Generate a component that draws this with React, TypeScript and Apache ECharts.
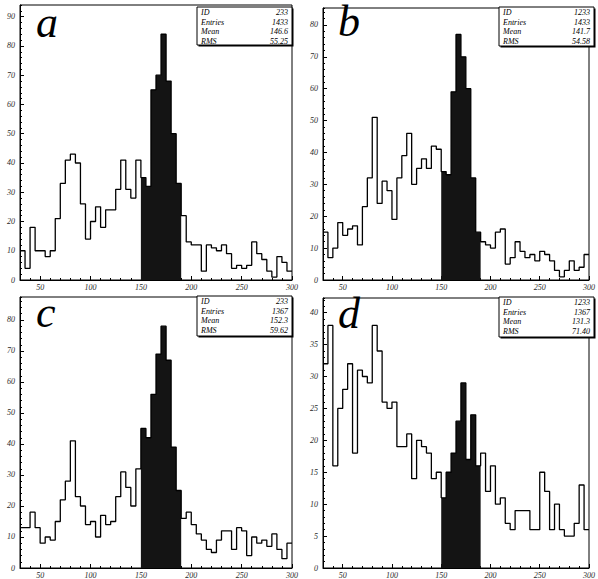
import React, { useEffect, useRef } from 'react';
import * as echarts from 'echarts';

// lower edges of the 5-unit bins (30 … 295); upper edge of last bin is 300
const binEdges = [30, 35, 40, 45, 50, 55, 60, 65, 70, 75, 80, 85, 90, 95, 100, 105, 110, 115, 120, 125, 130, 135, 140, 145, 150, 155, 160, 165, 170, 175, 180, 185, 190, 195, 200, 205, 210, 215, 220, 225, 230, 235, 240, 245, 250, 255, 260, 265, 270, 275, 280, 285, 290, 295];
const lastEdge = 300;
const shadeLo = 150;
const shadeHi = 190;

const countsA = [10, 4, 18, 10, 10, 8, 10, 21, 33, 41, 43, 40, 26, 14, 20, 25, 18, 24, 24, 31, 41, 31, 28, 41, 35, 32, 65, 70, 84, 68, 50, 33, 22, 13, 12, 12, 3, 12, 11, 10, 12, 9, 4, 5, 4, 5, 13, 9, 7, 3, 1, 8, 6, 3];
const countsB = [15, 7, 10, 18, 14, 16, 17, 11, 23, 32, 51, 24, 31, 28, 19, 32, 39, 46, 30, 35, 38, 35, 42, 41, 34, 33, 59, 77, 70, 60, 32, 15, 12, 11, 10, 15, 16, 5, 7, 12, 9, 7, 8, 6, 9, 8, 6, 3, 1, 3, 6, 3, 4, 8];
const countsC = [13, 13, 18, 13, 8, 10, 9, 15, 22, 28, 41, 23, 20, 14, 15, 10, 17, 14, 15, 23, 31, 26, 20, 32, 45, 42, 56, 69, 78, 67, 39, 25, 16, 18, 14, 11, 9, 6, 5, 9, 12, 12, 6, 13, 12, 4, 10, 8, 9, 7, 11, 6, 3, 8];
const countsD = [32, 38, 16, 25, 28, 32, 18, 31, 30, 29, 38, 34, 26, 25, 26, 19, 19, 21, 14, 20, 19, 18, 14, 15, 11, 15, 18, 23, 29, 17, 24, 16, 18, 12, 16, 10, 11, 7, 6, 9, 9, 9, 6, 6, 15, 12, 6, 10, 6, 5, 5, 7, 13, 6];

const panelLetters = ['a', 'b', 'c', 'd'];
const statLabels = ['ID', 'Entries', 'Mean', 'RMS'];
const statsA = ['233', '1433', '146.6', '55.25'];
const statsB = ['1233', '1433', '141.7', '54.58'];
const statsC = ['233', '1367', '152.3', '59.62'];
const statsD = ['1233', '1367', '131.3', '71.40'];

const yMaxes = [94, 85.3, 87.4, 42.3];
const yMajor = [10, 10, 10, 5];
const yMinor = [2, 2, 2, 1];

const FONT = 'Liberation Serif, Times New Roman, serif';

const grids = [
  { left: 20, top: 5, width: 272, height: 275 },
  { left: 323, top: 8, width: 272, height: 272 },
  { left: 20, top: 297, width: 272, height: 273 },
  { left: 323, top: 298, width: 272, height: 272 },
];
const boxes = [
  { x: 197, y: 7, w: 95, h: 38 },
  { x: 499, y: 7, w: 95, h: 39 },
  { x: 197, y: 296, w: 95, h: 40 },
  { x: 499, y: 297, w: 95, h: 40 },
];
// anchor points (vertical middle) for the big panel letters
const letterPos = [
  { x: 36, y: 22 },
  { x: 338, y: 21 },
  { x: 36, y: 312 },
  { x: 338, y: 313 },
];

export default function App() {
  const ref = useRef<HTMLDivElement>(null);
  useEffect(() => {
    if (!ref.current) return;
    const chart = echarts.init(ref.current, null, { renderer: 'svg' });
    const allCounts = [countsA, countsB, countsC, countsD];
    const allStats = [statsA, statsB, statsC, statsD];

    const labelStyle = {
      fontFamily: FONT,
      fontStyle: 'italic' as const,
      fontSize: 8,
      color: '#2a2a2a',
    };

    const xAxes: any[] = [];
    const yAxes: any[] = [];
    const series: any[] = [];
    const graphic: any[] = [];

    allCounts.forEach((counts, i) => {
      // minor x axis (ticks every 10)
      xAxes.push({
        type: 'value', gridIndex: i, position: 'bottom', min: 30, max: 300, interval: 10,
        axisLine: { show: true, onZero: false, lineStyle: { color: '#000', width: 1 } },
        axisTick: { show: true, inside: true, length: 2, lineStyle: { color: '#000' } },
        axisLabel: { show: false },
        splitLine: { show: false },
      });
      // major x axis (labels every 50)
      xAxes.push({
        type: 'value', gridIndex: i, position: 'bottom', min: 30, max: 300, splitNumber: 5,
        axisLine: { show: false, onZero: false },
        axisTick: { show: true, inside: true, length: 4, lineStyle: { color: '#000' } },
        axisLabel: { ...labelStyle, margin: 3, showMinLabel: false },
        splitLine: { show: false },
      });
      yAxes.push({
        type: 'value', gridIndex: i, position: 'left', min: 0, max: yMaxes[i], interval: yMinor[i],
        axisLine: { show: true, onZero: false, lineStyle: { color: '#000', width: 1 } },
        axisTick: { show: true, inside: true, length: 2, lineStyle: { color: '#000' } },
        axisLabel: { show: false },
        splitLine: { show: false },
      });
      yAxes.push({
        type: 'value', gridIndex: i, position: 'left', min: 0, max: yMaxes[i], interval: yMajor[i],
        axisLine: { show: false, onZero: false },
        axisTick: { show: true, inside: true, length: 4, lineStyle: { color: '#000' } },
        axisLabel: { ...labelStyle, margin: 5, showMaxLabel: false },
        splitLine: { show: false },
      });

      const outline: number[][] = binEdges.map((e, k) => [e, counts[k]]);
      outline.push([lastEdge, counts[counts.length - 1]]);
      const shaded: number[][] = [];
      binEdges.forEach((e, k) => {
        if (e >= shadeLo && e < shadeHi) shaded.push([e, counts[k]]);
      });
      shaded.push([shadeHi, shaded[shaded.length - 1][1]]);

      series.push({
        type: 'line', xAxisIndex: 2 * i, yAxisIndex: 2 * i, step: 'end',
        data: shaded, showSymbol: false, symbol: 'none',
        lineStyle: { width: 0 },
        areaStyle: { color: '#141414', opacity: 1 },
        z: 2,
      });
      series.push({
        type: 'line', xAxisIndex: 2 * i, yAxisIndex: 2 * i, step: 'end',
        data: outline, showSymbol: false, symbol: 'none',
        lineStyle: { color: '#000', width: 1.3 },
        z: 3,
      });

      // panel letter
      graphic.push({
        type: 'text', x: letterPos[i].x, y: letterPos[i].y,
        style: {
          text: panelLetters[i], fill: '#000', font: `italic 44px ${FONT}`,
          lineHeight: 32,
          textAlign: 'left', textVerticalAlign: 'middle',
        },
        z: 10,
      });
      // stats box
      const b = boxes[i];
      graphic.push({
        type: 'rect', shape: { x: b.x + 1.5, y: b.y + 1.5, width: b.w, height: b.h },
        style: { fill: '#000' }, z: 9,
      });
      graphic.push({
        type: 'rect', shape: { x: b.x, y: b.y, width: b.w, height: b.h },
        style: { fill: '#fff', stroke: '#000', lineWidth: 1 }, z: 10,
      });
      statLabels.forEach((lab, r) => {
        const cy = b.y + 5.5 + r * 9.5;
        graphic.push({
          type: 'text', x: b.x + 4, y: cy, z: 11,
          style: { text: lab, fill: '#000', font: `italic 8px ${FONT}`, textAlign: 'left', textVerticalAlign: 'middle' },
        });
        graphic.push({
          type: 'text', x: b.x + b.w - 4, y: cy, z: 11,
          style: { text: allStats[i][r], fill: '#000', font: `italic 8px ${FONT}`, textAlign: 'right', textVerticalAlign: 'middle' },
        });
      });
    });

    chart.setOption({
      animation: false,
      backgroundColor: '#fff',
      grid: grids.map((g) => ({ ...g, show: true, borderColor: '#000', borderWidth: 1, backgroundColor: 'transparent', containLabel: false })),
      xAxis: xAxes,
      yAxis: yAxes,
      series,
      graphic,
    });
    return () => chart.dispose();
  }, []);
  return <div ref={ref} style={{ position: 'fixed', left: 0, top: 0, width: 598, height: 579 }} />;
}
